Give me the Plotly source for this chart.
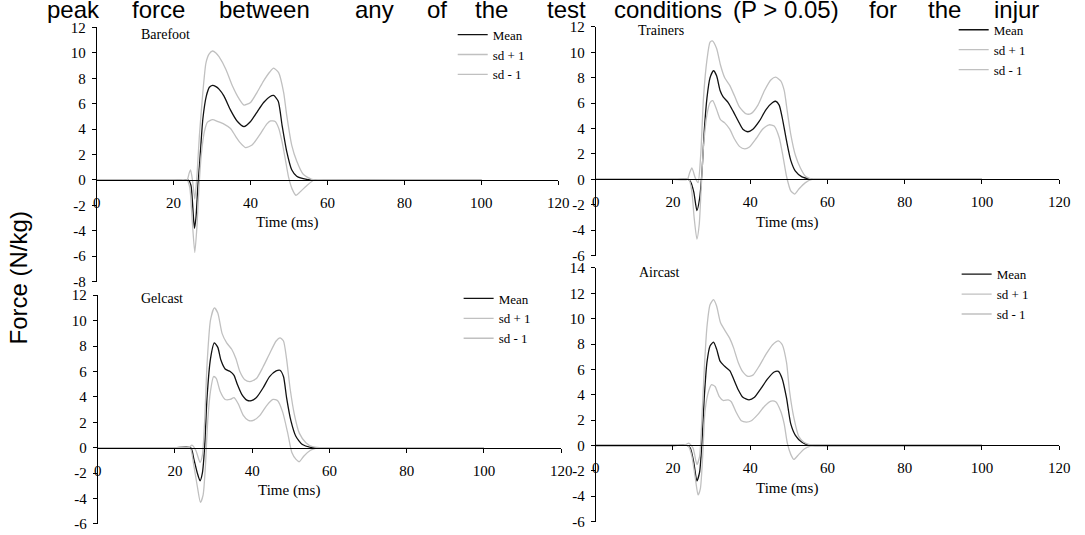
import plotly.graph_objects as go

# ---------------- data (time in ms, force in N/kg) ----------------
bf_mean_t = [0, 10, 20, 23.8, 24.5, 25.0, 25.4, 25.8, 26.3, 26.8, 27.6, 28.5, 29.3, 30.1, 31.0, 31.8, 33.1, 34.8, 36.6, 38.3, 40.0, 41.7, 43.4, 45.0, 46.0, 47.2, 48.2, 49.4, 50.7, 52.0, 54.6, 57, 60, 80, 100]
bf_mean = [0, 0, 0, 0, -0.4, -2.2, -3.8, -3.0, -0.5, 1.5, 4.8, 6.6, 7.3, 7.45, 7.35, 7.15, 6.6, 5.5, 4.6, 4.2, 4.6, 5.35, 6.1, 6.55, 6.65, 6.2, 4.3, 2.25, 0.8, 0.3, 0.05, 0, 0, 0, 0]
bf_up_t = [0, 10, 20, 23.5, 24.0, 24.4, 24.9, 25.5, 26.1, 26.7, 27.6, 28.4, 29.2, 30.1, 31.0, 31.8, 33.6, 35.3, 37.0, 38.3, 40.0, 41.7, 43.4, 45.0, 46.0, 47.3, 48.6, 49.4, 50.7, 52.0, 53.7, 55.9, 60, 80, 100]
bf_up = [0, 0, 0, 0, 0.5, 0.8, 0.0, -1.5, 0.5, 3.5, 6.9, 9.2, 9.9, 10.15, 10.0, 9.7, 8.7, 7.4, 6.4, 5.9, 6.1, 6.9, 7.8, 8.5, 8.8, 8.45, 6.9, 5.1, 2.75, 1.5, 0.45, 0.05, 0, 0, 0]
bf_lo_t = [0, 10, 20, 23.5, 24.2, 24.8, 25.5, 26.1, 26.6, 27.2, 28.0, 28.8, 30.1, 31.5, 33.1, 34.8, 36.2, 37.4, 38.7, 40.4, 42.6, 44.2, 45.2, 46.4, 47.3, 48.2, 49.0, 49.9, 50.8, 51.8, 53.0, 54.6, 56.5, 60, 80, 100]
bf_lo = [0, 0, 0, 0, -0.6, -3.0, -5.7, -3.5, -0.5, 2.0, 3.8, 4.55, 4.75, 4.6, 4.4, 4.05, 3.4, 2.9, 2.55, 2.75, 3.65, 4.4, 4.65, 4.6, 4.1, 3.0, 1.7, 0.2, -0.7, -1.2, -0.9, -0.45, 0, 0, 0, 0]

tr_mean_t = [0, 10, 20, 24.0, 24.6, 25.4, 26.2, 26.9, 27.5, 28.1, 28.8, 29.6, 30.5, 31.3, 32.2, 33.0, 34.3, 35.6, 36.9, 38.1, 39.4, 40.7, 42.4, 44.1, 45.8, 46.6, 47.5, 48.3, 49.4, 50.5, 51.7, 53.4, 55.6, 57.5, 60, 80, 100]
tr_mean = [0, 0, 0, 0, -0.2, -1.0, -2.45, -1.5, 0.5, 3.8, 6.4, 8.0, 8.55, 8.15, 7.0, 6.5, 6.05, 5.35, 4.6, 3.95, 3.75, 3.95, 4.6, 5.5, 6.05, 6.15, 5.85, 4.85, 3.05, 1.5, 0.65, 0.2, 0.03, 0, 0, 0, 0]
tr_up_t = [0, 10, 20, 23.7, 24.3, 24.9, 25.8, 26.5, 27.2, 27.9, 28.8, 29.6, 30.2, 31.3, 32.3, 33.4, 34.7, 35.9, 37.2, 39.0, 40.3, 42.0, 43.7, 45.4, 46.6, 47.9, 48.8, 49.6, 50.5, 51.7, 53.0, 54.3, 56.0, 60, 80, 100]
tr_up = [0, 0, 0, 0, 0.5, 0.9, 0.1, -0.25, 2.0, 6.4, 9.4, 10.8, 10.9, 10.3, 9.0, 8.0, 7.4, 6.6, 5.7, 5.15, 5.2, 5.85, 7.0, 7.85, 8.05, 7.75, 7.0, 5.35, 3.55, 1.9, 0.9, 0.25, 0.03, 0, 0, 0]
tr_lo_t = [0, 10, 20, 24.1, 24.9, 25.5, 26.2, 26.8, 27.3, 27.9, 28.8, 29.6, 30.3, 31.3, 32.3, 33.4, 34.7, 35.9, 37.2, 38.6, 39.8, 41.5, 43.2, 44.9, 46.2, 47.5, 48.5, 49.4, 50.5, 51.5, 52.6, 54.3, 56.0, 60, 80, 100]
tr_lo = [0, 0, 0, 0, -1.0, -3.05, -4.7, -3.55, -0.75, 2.55, 5.1, 6.05, 6.2, 5.5, 4.7, 4.45, 3.95, 3.2, 2.6, 2.4, 2.55, 3.2, 3.95, 4.3, 4.2, 3.3, 1.8, 0.25, -0.9, -1.15, -0.75, -0.25, 0, 0, 0, 0]

gc_mean_t = [0, 10, 20, 24.1, 24.9, 25.8, 26.5, 27.1, 27.7, 28.3, 29.2, 30.2, 31.1, 31.9, 33.0, 34.3, 35.3, 36.2, 37.3, 38.6, 39.8, 41.1, 42.8, 44.5, 46.2, 47.2, 48.1, 48.9, 50.0, 51.3, 53.0, 55.1, 57, 60, 80, 100]
gc_mean = [0, 0, 0, 0, -0.9, -2.0, -2.6, -2.0, 0.1, 3.9, 7.0, 8.25, 7.9, 6.9, 6.2, 6.0, 5.7, 4.95, 4.2, 3.75, 3.7, 3.95, 4.7, 5.6, 6.05, 6.1, 5.6, 3.95, 2.15, 0.9, 0.25, 0.03, 0, 0, 0, 0]
gc_up_t = [0, 10, 20, 23.5, 24.4, 25.4, 26.5, 27.1, 27.7, 28.3, 29.2, 30.2, 31.1, 32.2, 33.4, 34.7, 35.8, 36.8, 38.1, 39.4, 41.1, 42.8, 44.5, 46.2, 47.2, 48.1, 48.9, 49.8, 50.9, 52.2, 53.9, 55.6, 57.5, 60, 80, 100]
gc_up = [0, 0, 0, 0, 0.2, -0.2, -1.15, -0.6, 2.15, 6.5, 10.05, 11.0, 10.6, 9.0, 8.25, 7.75, 7.0, 6.0, 5.35, 5.2, 5.45, 6.35, 7.4, 8.4, 8.65, 8.4, 7.0, 4.7, 2.65, 1.15, 0.4, 0.08, 0, 0, 0, 0]
gc_lo_t = [0, 10, 20, 23.6, 24.1, 24.9, 25.8, 26.6, 27.3, 27.9, 28.5, 29.2, 30.0, 30.7, 31.7, 33.0, 34.3, 35.3, 36.4, 37.7, 39.0, 40.3, 42.0, 43.7, 45.4, 46.6, 47.9, 49.2, 50.3, 51.3, 52.2, 53.4, 55.1, 56.9, 60, 80, 100]
gc_lo = [0, 0, 0, 0, -0.1, -1.4, -3.05, -4.3, -3.7, -1.4, 2.15, 4.45, 5.6, 5.45, 4.45, 3.8, 3.8, 3.95, 3.45, 2.55, 2.15, 2.15, 2.55, 3.3, 3.8, 3.7, 2.8, 1.15, -0.4, -0.9, -1.1, -0.65, -0.2, 0, 0, 0, 0]

ac_mean_t = [0, 10, 20, 23.7, 24.5, 25.4, 26.2, 26.9, 27.5, 28.1, 28.8, 29.6, 30.5, 31.3, 32.2, 33.2, 34.7, 35.7, 36.9, 38.1, 39.7, 41.1, 42.8, 44.5, 46.2, 47.3, 48.3, 49.4, 50.5, 51.7, 53.4, 55.1, 57, 60, 80, 100]
ac_mean = [0, 0, 0, 0, -0.2, -1.35, -2.8, -2.1, 0.2, 3.75, 6.55, 7.85, 8.15, 7.6, 6.65, 6.3, 5.9, 5.25, 4.4, 3.8, 3.6, 3.8, 4.5, 5.25, 5.8, 5.85, 5.25, 3.75, 1.7, 0.8, 0.25, 0.03, 0, 0, 0, 0]
ac_up_t = [0, 10, 20, 23.2, 24.1, 25.2, 26.2, 26.9, 27.5, 28.1, 28.8, 29.6, 30.5, 31.3, 32.3, 33.4, 34.7, 35.7, 36.9, 38.1, 39.4, 40.7, 42.4, 44.1, 45.8, 47.3, 48.3, 49.4, 50.2, 51.3, 52.6, 53.9, 55.6, 57.5, 60, 80, 100]
ac_up = [0, 0, 0, 0.05, 0.18, -0.2, -1.5, -0.85, 2.2, 6.0, 9.35, 11.1, 11.5, 11.0, 9.7, 9.1, 8.45, 7.7, 6.55, 5.8, 5.45, 5.55, 6.3, 7.2, 7.95, 8.25, 7.95, 6.55, 4.25, 2.2, 0.7, 0.25, 0.05, 0, 0, 0, 0]
ac_lo_t = [0, 10, 20, 23.5, 24.1, 24.9, 25.8, 26.5, 27.1, 27.7, 28.3, 29.2, 30.0, 30.9, 32.0, 33.0, 34.3, 35.1, 36.4, 37.7, 39.0, 40.3, 42.0, 43.7, 45.4, 46.6, 47.9, 48.8, 49.6, 50.5, 51.3, 52.6, 53.9, 55.6, 57, 60, 80, 100]
ac_lo = [0, 0, 0, 0, -0.1, -0.85, -2.6, -3.9, -3.4, -0.85, 2.7, 4.25, 4.8, 4.65, 3.85, 3.55, 3.6, 3.45, 2.6, 1.95, 1.85, 1.95, 2.45, 3.1, 3.5, 3.45, 2.7, 1.7, 0.2, -0.7, -1.1, -0.7, -0.3, -0.05, 0, 0, 0, 0]

conditions = ["Barefoot", "Trainers", "Gelcast", "Aircast"]
series_names = ["Mean", "sd + 1", "sd - 1"]
x_ticks = [0, 20, 40, 60, 80, 100, 120]
y_ranges = [(-8, 12), (-6, 12), (-6, 12), (-6, 14)]
heading_words = ["peak", "force", "between", "any", "of", "the", "test",
                 "conditions", "(P > 0.05)", "for", "the", "injur"]

panel_data = [
    [(bf_mean_t, bf_mean), (bf_up_t, bf_up), (bf_lo_t, bf_lo)],
    [(tr_mean_t, tr_mean), (tr_up_t, tr_up), (tr_lo_t, tr_lo)],
    [(gc_mean_t, gc_mean), (gc_up_t, gc_up), (gc_lo_t, gc_lo)],
    [(ac_mean_t, ac_mean), (ac_up_t, ac_up), (ac_lo_t, ac_lo)],
]

# ---------------- layout geometry (pixels) ----------------
W, H = 1085, 535
# x0, x1 (axis 0..120), y_top (max), y_bot (min)
boxes = [(94, 562, 20.1, 282.1), (600, 1070, 19.5, 255.3),
         (95, 565, 296.1, 531.9), (600, 1070, 268.0, 529.4)]
heading_x = [42, 128, 216, 354, 427, 476, 549, 617, 737, 875, 935, 1002]
legend_pos = [(455, 12), (963, 7), (461, 284), (966, 259)]
title_pos = [(137, 27), (641, 23), (137, 299), (642, 273)]

SERIF = "Liberation Serif, Times New Roman, serif"
SANS = "Liberation Sans, Arial, sans-serif"
colors = ["#111111", "#c0c0c0", "#c0c0c0"]

fig = go.Figure()
annotations = []
for i, (cond, series) in enumerate(zip(conditions, panel_data)):
    n = "" if i == 0 else str(i + 1)
    leg = "legend" if i == 0 else f"legend{i + 1}"
    for name, (t, v), c in zip(series_names, series, colors):
        fig.add_trace(go.Scatter(
            x=t, y=v, mode="lines", name=name,
            line=dict(color=c, width=1.3, shape="spline", smoothing=0.6),
            xaxis="x" + n, yaxis="y" + n, legend=leg, hoverinfo="skip"))

    x0, x1, yt, yb = boxes[i]
    ymin, ymax = y_ranges[i]
    yticks = list(range(ymin, ymax + 1, 2))
    dom_y = [1 - yb / H, 1 - yt / H]
    zero_pos = dom_y[0] + (0 - ymin) / (ymax - ymin) * (dom_y[1] - dom_y[0])
    fig.layout["xaxis" + n] = dict(
        domain=[x0 / W, x1 / W], range=[0, 120], tickvals=x_ticks,
        anchor="free", position=zero_pos, showline=True, linecolor="black",
        linewidth=1, ticks="outside", ticklen=4, tickcolor="black",
        showgrid=False, zeroline=False, ticklabelstandoff=5,
        tickfont=dict(family=SERIF, size=15, color="black"))
    fig.layout["yaxis" + n] = dict(
        domain=dom_y, range=[ymin, ymax], tickvals=yticks,
        ticktext=[str(v) for v in yticks],
        anchor="x" + n, showline=True, linecolor="black", linewidth=1,
        ticks="outside", ticklen=4, tickcolor="black", showgrid=False,
        zeroline=False, ticklabelstandoff=3,
        tickfont=dict(family=SERIF, size=15, color="black"))
    lx, ly = legend_pos[i]
    fig.layout[leg] = dict(
        x=lx / W, y=1 - ly / H, xanchor="left", yanchor="top",
        bgcolor="rgba(0,0,0,0)", borderwidth=0, tracegroupgap=0,
        font=dict(family=SERIF, size=13, color="black"))
    tx, ty = title_pos[i]
    annotations.append(dict(text=cond, x=tx / W, y=1 - ty / H, xref="paper",
                            yref="paper", xanchor="left", yanchor="middle",
                            showarrow=False,
                            font=dict(family=SERIF, size=14, color="black")))
    annotations.append(dict(text="Time (ms)", x=49.5 / 120, y=zero_pos,
                            xref=f"x{n} domain", yref="paper", yshift=-43,
                            xanchor="center", yanchor="middle", showarrow=False,
                            font=dict(family=SERIF, size=15, color="black")))

annotations.append(dict(text="Force (N/kg)", x=15 / W, y=1 - 278 / H,
                        xref="paper", yref="paper", textangle=-90,
                        xanchor="center", yanchor="middle", showarrow=False,
                        font=dict(family=SANS, size=24, color="black")))
for word, wx in zip(heading_words, heading_x):
    annotations.append(dict(text=word, x=wx / W, y=1 - 2 / H, xref="paper",
                            yref="paper", xanchor="left", yanchor="middle",
                            showarrow=False,
                            font=dict(family=SANS, size=24, color="black")))

fig.update_layout(width=W, height=H, margin=dict(l=0, r=0, t=0, b=0),
                  paper_bgcolor="white", plot_bgcolor="white",
                  annotations=annotations, showlegend=True)
fig.write_html("out.html", config={"displayModeBar": False},
               post_script="document.body.style.margin='0';")
